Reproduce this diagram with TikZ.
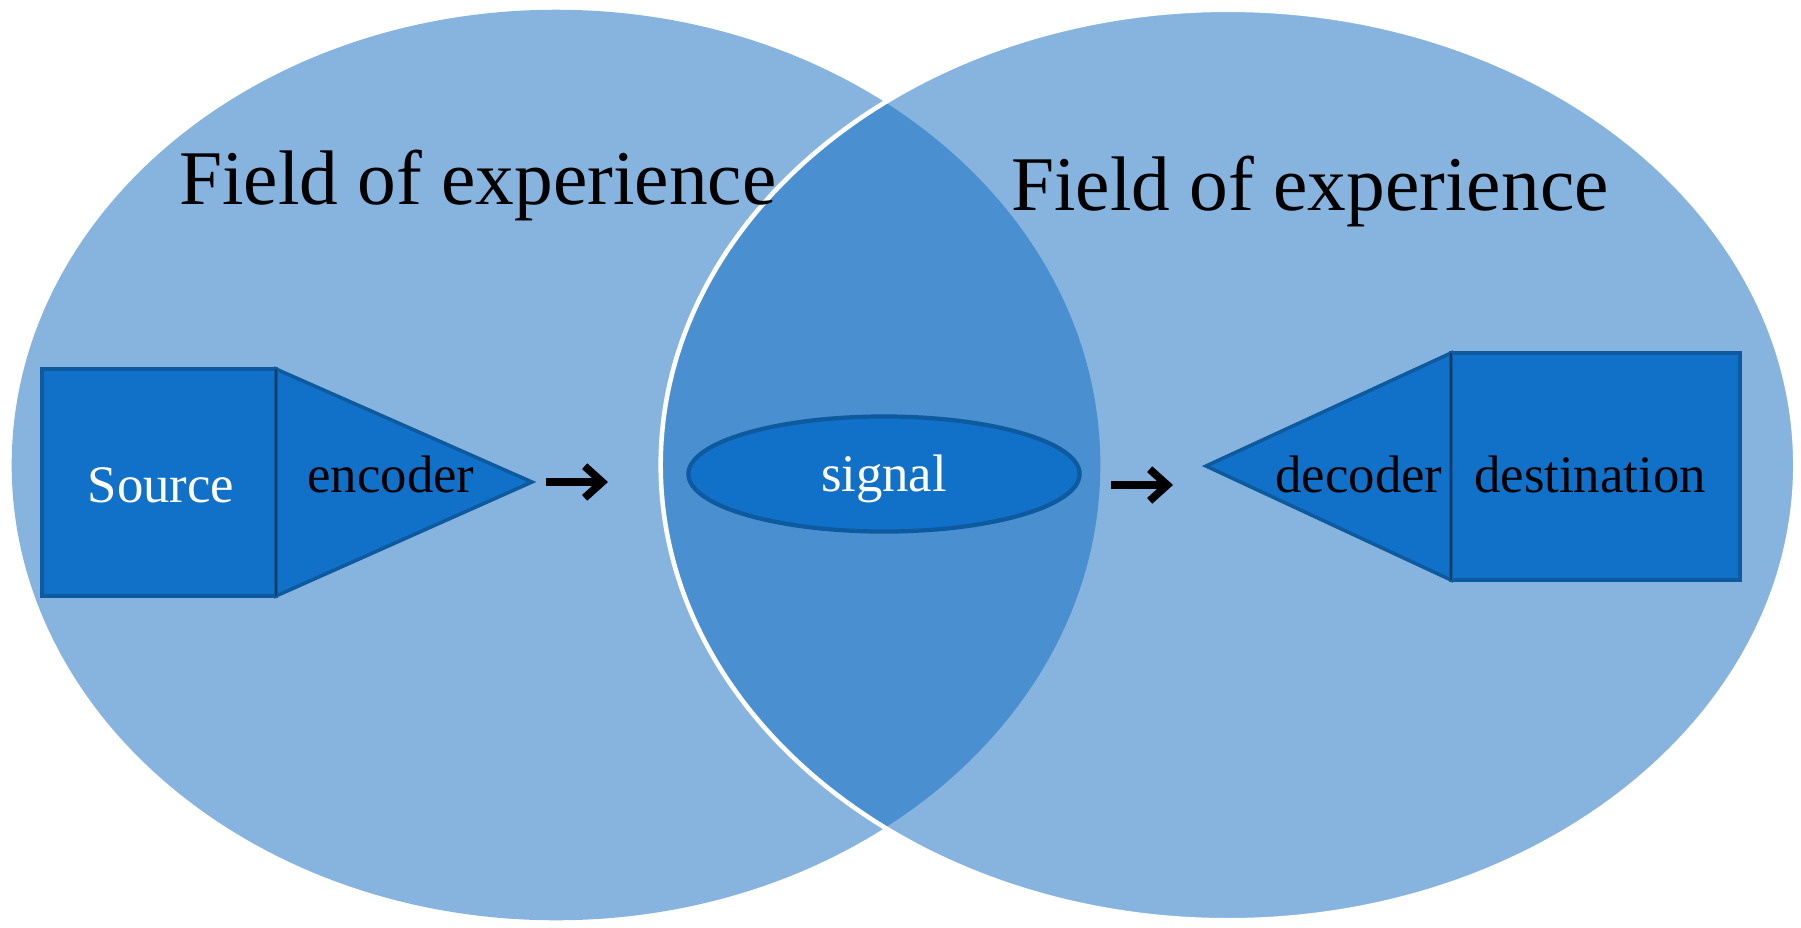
\documentclass[tikz,border=0pt]{standalone}
\usepackage{fontspec}
\setmainfont{Liberation Serif}
\usetikzlibrary{arrows.meta,shapes.geometric}
\definecolor{fieldblue}{HTML}{86B4DF}
\definecolor{overlapblue}{HTML}{4A90D1}
\definecolor{boxblue}{HTML}{1170C8}
\definecolor{boxedge}{HTML}{0D5A9E}
\definecolor{divider}{HTML}{0B3D6B}
\tikzset{
  field/.style={fill=fieldblue},
  boxshape/.style={fill=boxblue, draw=boxedge, line width=1pt, line join=miter},
  fieldlabel/.style={font=\fontsize{22}{26}\selectfont, anchor=base, inner sep=0pt},
  boxlabel/.style={font=\fontsize{15}{18}\selectfont, anchor=base, inner sep=0pt},
  flow/.style={line width=2.2pt, -{Straight Barb[length=5pt, width=9pt, line width=2.2pt]}, black},
}
\begin{document}
\begin{tikzpicture}[x=0.01cm, y=-0.01cm]
\useasboundingbox (0,0) rectangle (1801,927);
\fill[white] (0,0) rectangle (1801,927);
% fields of experience
\fill[field] (556,465) ellipse [x radius=5.44cm, y radius=4.55cm];
\fill[field] (1228,465) ellipse [x radius=5.67cm, y radius=4.55cm];
\begin{scope}
  \clip (556,465) ellipse [x radius=5.44cm, y radius=4.55cm];
  \fill[overlapblue] (1228,465) ellipse [x radius=5.67cm, y radius=4.55cm];
\end{scope}
\draw[white, line width=1.3pt] (1228,465) ellipse [x radius=5.67cm, y radius=4.55cm];

\node[fieldlabel] (fieldL) at (478,204) {Field of experience};
\node[fieldlabel] (fieldR) at (1310,210) {Field of experience};

% source / encoder
\draw[boxshape] (276,369) -- (532,482) -- (276,596) -- cycle;
\draw[boxshape] (42,369) rectangle (276,596);
\draw[divider, line width=0.8pt] (276,369) -- (276,596);
\node[boxlabel, text=white] (source) at (161,502) {Source};
\node[boxlabel] (encoder) at (391,492) {encoder};

% signal
\node[ellipse, boxshape, line width=1.2pt, minimum width=3.91cm, minimum height=1.15cm] (signal) at (884,474) {};
\node[boxlabel, text=white] (signaltext) at (884,491) {signal};

% destination / decoder
\draw[boxshape] (1451,353) -- (1206,466) -- (1451,580) -- cycle;
\draw[boxshape] (1451,353) rectangle (1740,580);
\draw[divider, line width=0.8pt] (1451,353) -- (1451,580);
\node[boxlabel] (decoder) at (1359,492) {decoder};
\node[boxlabel] (destination) at (1590,492) {destination};

% arrows
\coordinate (a1s) at (546,482);
\coordinate (a1e) at (608,482);
\coordinate (a2s) at (1111,485);
\coordinate (a2e) at (1173,485);
\draw[flow] (a1s) -- (a1e);
\draw[flow] (a2s) -- (a2e);
\end{tikzpicture}
\end{document}
